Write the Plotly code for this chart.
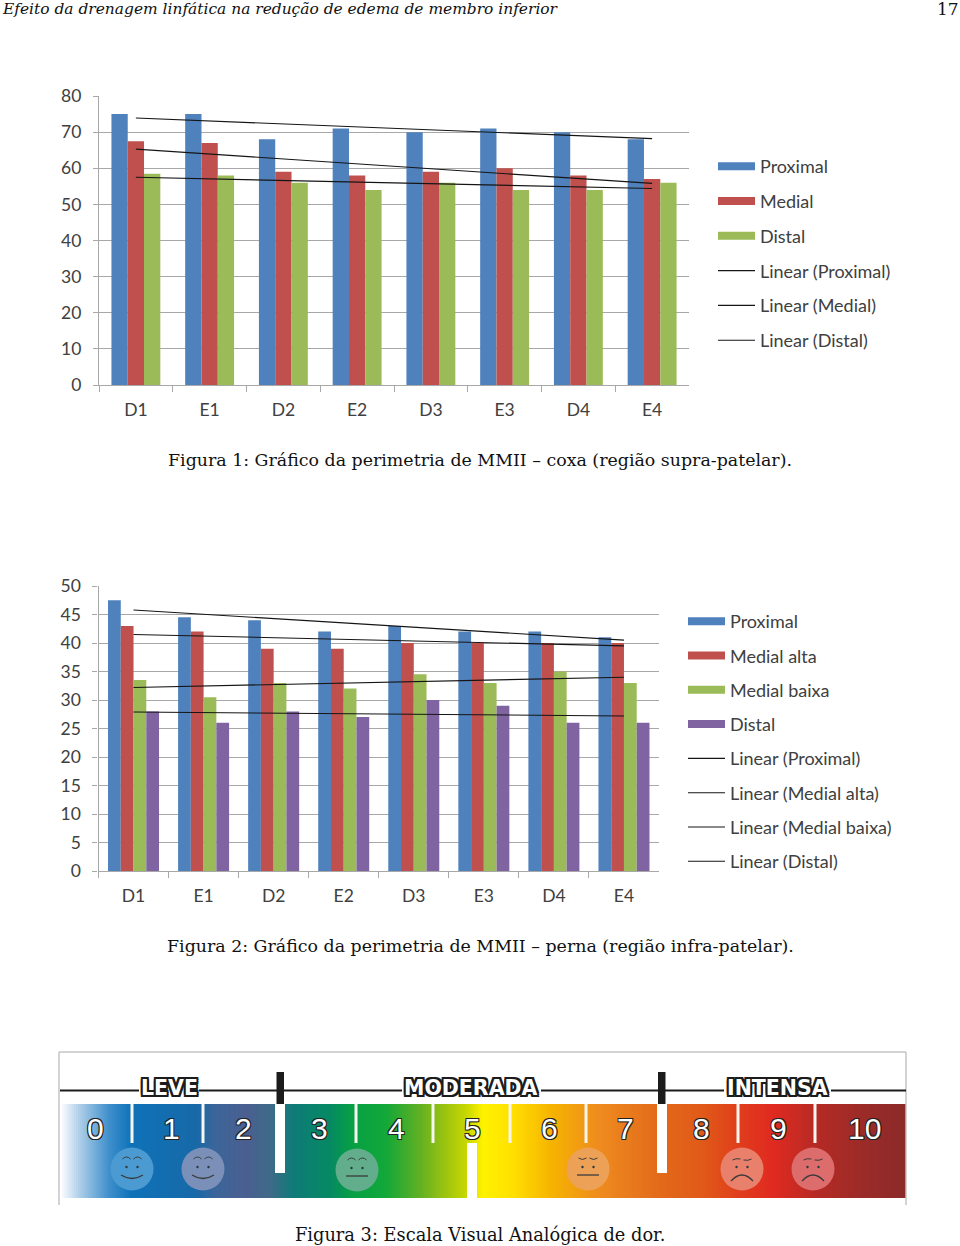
import numpy as np
import plotly.graph_objects as go

# ---------- data ----------
categories = ["D1", "E1", "D2", "E2", "D3", "E3", "D4", "E4"]

fig1_proximal = [75, 75, 68, 71, 70, 71, 70, 68]
fig1_medial = [67.5, 67, 59, 58, 59, 60, 58, 57]
fig1_distal = [58.5, 58, 56, 54, 56, 54, 54, 56]
fig1_trend_proximal = [73.9, 68.2]
fig1_trend_medial = [65.3, 55.8]
fig1_trend_distal = [57.5, 54.4]

fig2_proximal = [47.5, 44.5, 44, 42, 43, 42, 42, 41]
fig2_medial_alta = [43, 42, 39, 39, 40, 40, 40, 40]
fig2_medial_baixa = [33.5, 30.5, 33, 32, 34.5, 33, 35, 33]
fig2_distal = [28, 26, 28, 27, 30, 29, 26, 26]
fig2_trend_proximal = [45.8, 40.5]
fig2_trend_medial_alta = [41.5, 39.5]
fig2_trend_medial_baixa = [32.2, 34.0]
fig2_trend_distal = [27.9, 27.2]

header_left = "Efeito da drenagem linfática na redução de edema de membro inferior"
header_right = "17"
caption1 = "Figura 1: Gráfico da perimetria de MMII – coxa (região supra-patelar)."
caption2 = "Figura 2: Gráfico da perimetria de MMII – perna (região infra-patelar)."
caption3 = "Figura 3: Escala Visual Analógica de dor."

pain_scores = ["0", "1", "2", "3", "4", "5", "6", "7", "8", "9", "10"]
pain_bands = ["LEVE", "MODERADA", "INTENSA"]

# ---------- styles ----------
W, H = 960, 1246
BLUE, RED, GREEN, PURPLE = "#4f81bd", "#c0504d", "#9bbb59", "#8064a2"
GRID = "#a8a8a8"
CHART_FONT = "Lato"
SERIF = "DejaVu Serif"


def px_x(a, b):
    return [a / W, b / W]


def px_y(top, bottom):
    return [1 - bottom / H, 1 - top / H]


fig = go.Figure()


def add_chart(xa, ya, legend, bars, trends, bar_w):
    n = len(bars)
    for i, (name, vals, col) in enumerate(bars):
        fig.add_bar(x=categories, y=vals, name=name, marker=dict(color=col, line_width=0),
                    width=bar_w, offset=(i - n / 2) * bar_w, xaxis=xa, yaxis=ya, showlegend=False)
    for name, vals, col in bars:
        fig.add_scatter(x=[None], y=[None], mode="lines", name=name, legend=legend, legendgroup=name + legend,
                        line=dict(color=col, width=8), xaxis=xa, yaxis=ya)
    for name, vals in trends:
        fig.add_scatter(x=[categories[0], categories[-1]], y=vals, mode="lines", name=name, legend=legend,
                        legendgroup=name + legend, line=dict(color="#151515", width=1.1), xaxis=xa, yaxis=ya)


add_chart("x", "y", "legend",
          [("Proximal", fig1_proximal, BLUE), ("Medial", fig1_medial, RED), ("Distal", fig1_distal, GREEN)],
          [("Linear (Proximal)", fig1_trend_proximal), ("Linear (Medial)", fig1_trend_medial),
           ("Linear (Distal)", fig1_trend_distal)], 0.221)
add_chart("x2", "y2", "legend2",
          [("Proximal", fig2_proximal, BLUE), ("Medial alta", fig2_medial_alta, RED),
           ("Medial baixa", fig2_medial_baixa, GREEN), ("Distal", fig2_distal, PURPLE)],
          [("Linear (Proximal)", fig2_trend_proximal), ("Linear (Medial alta)", fig2_trend_medial_alta),
           ("Linear (Medial baixa)", fig2_trend_medial_baixa), ("Linear (Distal)", fig2_trend_distal)], 0.182)

# ---------- Figure 3: pain scale, on an axis pair running in page pixels ----------
stops = [(62, "#f4f8fc"), (80, "#a9cbe6"), (108, "#3f8fcb"), (130, "#0f72b8"), (195, "#1769a8"),
         (215, "#3c6599"), (245, "#4a5f90"), (270, "#3f6a88"), (292, "#0f7a78"), (330, "#068a62"),
         (352, "#07a044"), (385, "#12a83a"), (418, "#5eb024"), (440, "#92c014"), (466, "#c8d800"),
         (482, "#fff200"), (512, "#ffe000"), (550, "#f6b400"), (600, "#ee8a1e"), (660, "#e2691a"),
         (700, "#e05a18"), (740, "#e03c1c"), (772, "#e02a20"), (815, "#b62a24"), (860, "#9c2b28"),
         (906, "#8a2a2a")]
lo, hi = stops[0][0], stops[-1][0]
band_x = np.arange(lo, hi + 2, 2)
fig.add_heatmap(x=band_x, y=[1104, 1198], z=[band_x[:-1]], xaxis="x3", yaxis="y3", showscale=False,
                hoverinfo="skip", zmin=lo, zmax=hi,
                colorscale=[[(p - lo) / (hi - lo), c] for p, c in stops])

faces = [(132, 1169, "#4b9bd2", "smile"), (203, 1169, "#7a90b8", "smile"), (357, 1170, "#62ad8b", "flat"),
         (588, 1169, "#eda156", "flat"), (742, 1169, "#e8806c", "sad"), (813, 1169, "#dd6c6c", "sad")]
fig.add_scatter(x=[f[0] for f in faces], y=[f[1] for f in faces], mode="markers", xaxis="x3", yaxis="y3",
                showlegend=False, hoverinfo="skip",
                marker=dict(size=43, color=[f[2] for f in faces], line_width=0))

shapes = []


def add_rect(x0, x1, y0, y1, col):
    shapes.append(dict(type="rect", xref="x3", yref="y3", x0=x0, x1=x1, y0=y0, y1=y1,
                       fillcolor=col, line_width=0, layer="above"))


def add_seg(x0, y0, x1, y1, col, w):
    shapes.append(dict(type="line", xref="x3", yref="y3", x0=x0, y0=y0, x1=x1, y1=y1,
                       line=dict(color=col, width=w), layer="above"))


def add_path(d, col="#3a3a3a", w=1):
    shapes.append(dict(type="path", xref="x3", yref="y3", path=d, line=dict(color=col, width=w), layer="above"))


# frame and headline rule (broken by the band labels)
add_seg(59, 1052, 906, 1052, "#c4c4c4", 1.5)
add_seg(59, 1052, 59, 1205, "#c4c4c4", 1.5)
add_seg(906, 1052, 906, 1205, "#c4c4c4", 1.5)
for a, b in [(60, 139), (199, 402), (541, 724), (831, 906)]:
    add_seg(a, 1090.5, b, 1090.5, "#1c1c1c", 2)
# white dividers
for x in [132, 203, 356, 433, 510, 586, 738, 815]:
    add_rect(x - 1.5, x + 1.5, 1104, 1143, "#f6f6ee")
add_rect(275, 285, 1104, 1173, "white")
add_rect(657, 667, 1104, 1173, "white")
add_rect(467, 477, 1143, 1200, "white")
add_rect(276.5, 284, 1072, 1104, "#1c1c1c")
add_rect(658, 665.5, 1072, 1104, "#1c1c1c")
# faces
for cx, cy, col, mood in faces:
    eye = "#2a3a40"
    for s in (-5.5, 5.5):
        shapes.append(dict(type="circle", xref="x3", yref="y3", x0=cx + s - 1.2, x1=cx + s + 1.2, y0=cy - 3.2,
                           y1=cy - 0.8, fillcolor=eye, line_width=0, layer="above"))
        if mood == "sad":
            add_path(f"M{cx + s - 4},{cy - 9} Q{cx + s + s / 5.5},{cy - 11 + (s > 0) * 3} {cx + s + 4},{cy - 10}")
        elif mood == "flat" and cx > 500:
            add_path(f"M{cx + s - 4},{cy - 11} Q{cx + s},{cy - 8} {cx + s + 4},{cy - 11}")
        else:
            add_path(f"M{cx + s - 4},{cy - 10} Q{cx + s},{cy - 14} {cx + s + 4},{cy - 10}")
    if mood == "smile":
        add_path(f"M{cx - 11},{cy + 6} Q{cx},{cy + 13} {cx + 11},{cy + 6}", w=1.3)
    elif mood == "flat":
        add_path(f"M{cx - 11},{cy + 6} L{cx + 11},{cy + 6}", w=1.3)
    else:
        add_path(f"M{cx - 11},{cy + 12} Q{cx},{cy} {cx + 11},{cy + 12}", w=1.3)

# ---------- text ----------
annotations = []


def text(x, y, s, size, family=SERIF, color="#111", anchor="left", **kw):
    annotations.append(dict(xref="paper", yref="paper", x=x / W, y=1 - y / H, text=s, showarrow=False,
                            xanchor=anchor, yanchor="middle",
                            font=dict(family=family, size=size, color=color, **kw.pop("font", {})), **kw))


text(0, 9, f"<i>{header_left}</i>", 15.45)
text(961, 9, header_right, 17, anchor="right")
text(166, 460, caption1, 17.4)
text(165, 946, caption2, 17.4)
text(293, 1234, caption3, 17.8)

OUT = "-1px -1px 0 #222, 1px -1px 0 #222, -1px 1px 0 #222, 1px 1px 0 #222"
OUT2 = ("-2px -2px 0 #1c1c1c, 2px -2px 0 #1c1c1c, -2px 2px 0 #1c1c1c, 2px 2px 0 #1c1c1c, "
        "0 -2px 0 #1c1c1c, 0 2px 0 #1c1c1c, -2px 0 0 #1c1c1c, 2px 0 0 #1c1c1c")
for lab, x in zip(pain_scores, [95, 171, 243, 319, 396, 472, 549, 625, 701, 778, 864]):
    text(x, 1128, lab, 30, family="Liberation Sans", color="white", anchor="center", font=dict(shadow=OUT))
for lab, x, size in zip(pain_bands, [169, 471, 777], [20.5, 20.5, 20.5]):
    text(x, 1088, f"<b>{lab}</b>", size, family="DejaVu Sans", color="white", anchor="center",
         font=dict(shadow=OUT2))


def legend_cfg(x, y, gap):
    return dict(x=x / W, y=1 - y / H, xanchor="left", yanchor="top", bgcolor="rgba(0,0,0,0)", itemwidth=37,
                tracegroupgap=gap, itemclick=False, itemdoubleclick=False,
                font=dict(family=CHART_FONT, size=18, color="#404040"))


def y_axis(rng, dtick, dom):
    return dict(domain=dom, range=rng, dtick=dtick, tick0=0, showgrid=True, gridcolor=GRID, gridwidth=1.4,
                showline=True, linecolor=GRID, linewidth=1.4, ticks="outside", ticklen=5, tickcolor=GRID,
                tickwidth=1.4, tickfont=dict(family=CHART_FONT, size=17.5, color="#404040"), zeroline=False,
                automargin=False, ticklabelstandoff=8)


def x_axis(dom, anchor):
    return dict(domain=dom, anchor=anchor, type="category", categoryorder="array", categoryarray=categories,
                range=[-0.5, 7.5], tickson="boundaries", ticks="outside", ticklen=6, tickcolor=GRID, tickwidth=1.4,
                showline=True, linecolor=GRID, linewidth=1.4, showgrid=False, automargin=False,
                ticklabelstandoff=9, tickfont=dict(family=CHART_FONT, size=17.5, color="#404040"))


fig.update_layout(
    width=W, height=H, margin=dict(l=0, r=0, t=0, b=0), paper_bgcolor="white", plot_bgcolor="white",
    barmode="overlay", hovermode=False,
    shapes=shapes, annotations=annotations,
    xaxis=x_axis(px_x(99, 689), "y"), yaxis=dict(y_axis([0, 80], 10, px_y(96, 385)), anchor="x"),
    xaxis2=x_axis(px_x(98.5, 659), "y2"), yaxis2=dict(y_axis([0, 50], 5, px_y(586, 871)), anchor="x2"),
    xaxis3=dict(domain=px_x(50, 915), range=[50, 915], visible=False, anchor="y3", automargin=False),
    yaxis3=dict(domain=px_y(1045, 1215), range=[1215, 1045], visible=False, anchor="x3", automargin=False),
    legend=legend_cfg(713, 148, 8.4),
    legend2=legend_cfg(683, 603, 7.9),
)

fig.write_html("out.html", config={"displayModeBar": False}, post_script="document.body.style.margin='0';")
